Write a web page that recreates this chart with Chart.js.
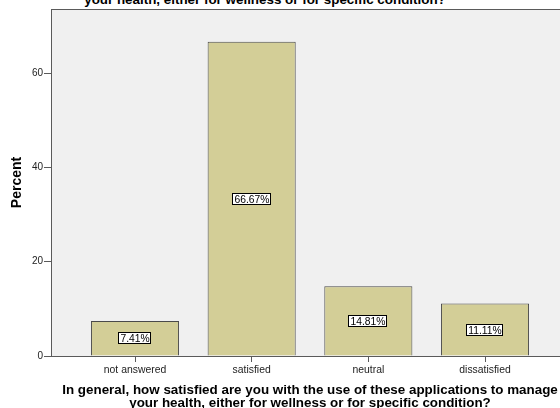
<!DOCTYPE html>
<html>
<head>
<meta charset="utf-8">
<script src="https://cdn.jsdelivr.net/npm/chart.js@4/dist/chart.umd.min.js"></script>
<style>
  html, body { margin: 0; padding: 0; background: #fff; overflow: hidden; width: 560px; height: 408px; }
  #wrap { position: relative; width: 560px; height: 408px; overflow: hidden; }
  #topTitle {
    position: absolute; left: 0; top: -20px; width: 530px;
    text-align: center; font: bold 13.4px/13px Arial, "Liberation Sans", sans-serif; color: #000;
  }
  canvas { position: absolute; left: 0; top: 0; }
</style>
</head>
<body>
<div id="wrap">
  <div id="topTitle">In general, how satisfied are you with the use of these applications to manage<br>your health, either for wellness or for specific condition?</div>
  <canvas id="satChart" width="600" height="410"></canvas>
</div>
<script>
const categories = ['not answered', 'satisfied', 'neutral', 'dissatisfied'];
const percents = [7.41, 66.67, 14.81, 11.11];
const yTicks = [0, 20, 40, 60];
const questionText = [
    'In general, how satisfied are you with the use of these applications to manage',
    'your health, either for wellness or for specific condition?'
];

Chart.defaults.font.family = 'Arial, "Liberation Sans", sans-serif';
Chart.defaults.color = '#222';

// grey plot background and frame
const plotFrame = {
    id: 'plotFrame',
    beforeDraw(chart) {
        const { ctx, chartArea: a } = chart;
        ctx.save();
        ctx.fillStyle = '#f0f0f0';
        ctx.fillRect(a.left, a.top, a.right - a.left, a.bottom - a.top);
        ctx.restore();
    },
    afterDraw(chart) {
        const { ctx, chartArea: a } = chart;
        ctx.save();
        ctx.strokeStyle = '#5a5a5a';
        ctx.lineWidth = 1;
        ctx.strokeRect(a.left + 0.5, a.top + 0.5, a.right - a.left - 1, a.bottom - a.top);
        ctx.restore();
    }
};

// boxed percentage in the middle of each bar
const valueBoxes = {
    id: 'valueBoxes',
    afterDatasetsDraw(chart) {
        const { ctx } = chart;
        const meta = chart.getDatasetMeta(0);
        ctx.save();
        ctx.font = '10.3px Arial, "Liberation Sans", sans-serif';
        ctx.textAlign = 'center';
        ctx.textBaseline = 'middle';
        meta.data.forEach((bar, i) => {
            const text = percents[i].toFixed(2) + '%';
            const w = Math.round(ctx.measureText(text).width) + 4;
            const h = 12;
            const cx = Math.round(bar.x);
            const cy = Math.round((bar.y + bar.base) / 2);
            const left = cx - Math.round(w / 2);
            const top = cy - h / 2;
            ctx.fillStyle = '#fff';
            ctx.fillRect(left, top, w, h);
            ctx.strokeStyle = '#000';
            ctx.lineWidth = 1;
            ctx.strokeRect(left + 0.5, top + 0.5, w - 1, h - 1);
            ctx.fillStyle = '#000';
            ctx.fillText(text, cx, cy + 1);
        });
        ctx.restore();
    }
};

new Chart(document.getElementById('satChart'), {
    type: 'bar',
    data: {
        datasets: [{
            data: percents.map((v, i) => ({ x: i, y: v })),
            backgroundColor: '#d3ce97',
            borderColor: '#4a4a4a',
            borderWidth: 1,
            barPercentage: 0.755,
            categoryPercentage: 1
        }]
    },
    plugins: [plotFrame, valueBoxes],
    options: {
        responsive: false,
        animation: false,
        layout: { padding: { top: 9, right: 31, left: 0, bottom: 0 } },
        plugins: {
            legend: { display: false },
            tooltip: { enabled: false }
        },
        scales: {
            x: {
                type: 'linear',
                offset: false,
                min: -0.72,
                max: categories.length - 1 + 0.72,
                afterBuildTicks: scale => { scale.ticks = categories.map((c, i) => ({ value: i })); },
                afterFit: scale => { scale.height = 54; },
                grid: { offset: false, drawOnChartArea: false, drawTicks: true, tickLength: 6, color: '#5a5a5a' },
                border: { display: true, color: '#5a5a5a', width: 1 },
                ticks: {
                    callback: v => categories[v],
                    font: { size: 10.4 },
                    color: '#222',
                    padding: 2,
                    maxRotation: 0
                },
                title: {
                    display: true,
                    text: questionText,
                    font: { size: 13.4, weight: 'bold', lineHeight: 0.97 },
                    color: '#000',
                    padding: 0
                }
            },
            y: {
                min: 0,
                max: 73.6,
                afterBuildTicks: scale => { scale.ticks = yTicks.map(v => ({ value: v })); },
                afterFit: scale => { scale.width = 51; },
                grid: { drawOnChartArea: false, drawTicks: true, tickLength: 7, color: '#5a5a5a' },
                border: { display: true, color: '#5a5a5a', width: 1 },
                ticks: { font: { size: 10 }, color: '#222', padding: 1 },
                title: {
                    display: true,
                    text: 'Percent',
                    font: { size: 14, weight: 'bold' },
                    color: '#000',
                    padding: { top: 9, bottom: 0 }
                }
            }
        }
    }
});
</script>
</body>
</html>
